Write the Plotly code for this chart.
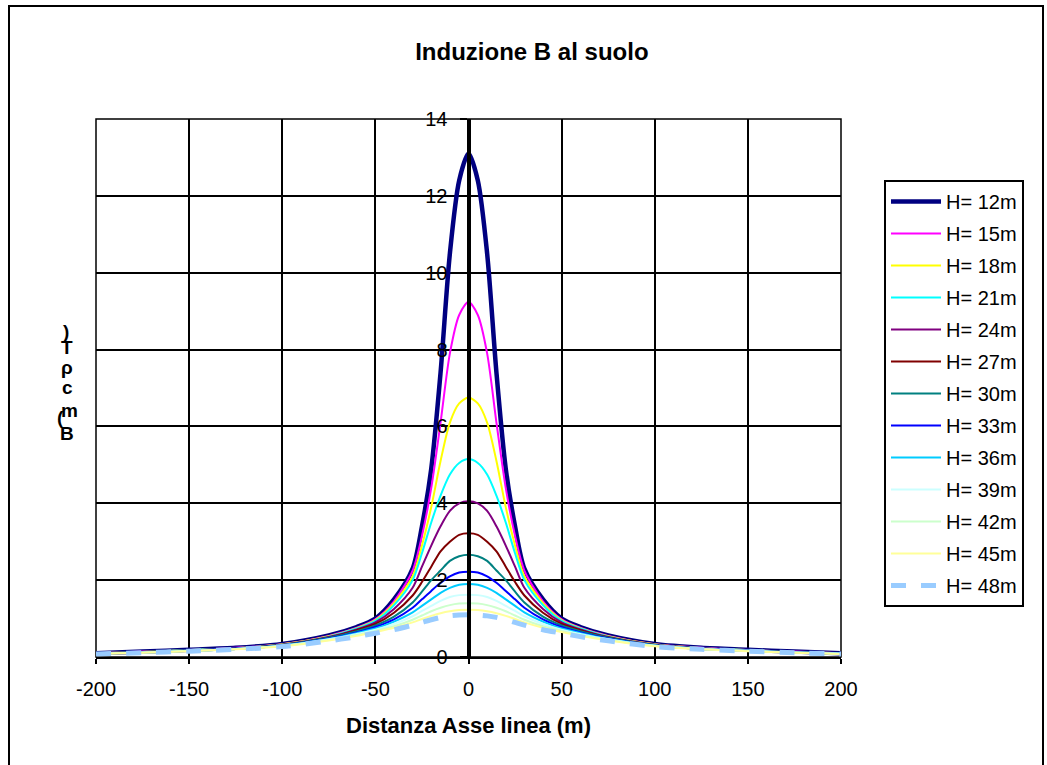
import plotly.graph_objects as go

# Distance from the line axis (m)
x_dist = [-200, -175, -150, -125, -100, -75, -60, -50, -40, -30, -25, -20, -15, -10, -5, 0,
          5, 10, 15, 20, 25, 30, 40, 50, 60, 75, 100, 125, 150, 175, 200]

# Induction B (µT) for each conductor height
b_h12 = [0.10, 0.14, 0.19, 0.24, 0.34, 0.56, 0.78, 1.00, 1.50, 2.30, 3.40, 4.90, 7.40, 10.5, 12.4, 13.1,
         12.4, 10.5, 7.40, 4.90, 3.40, 2.30, 1.50, 1.00, 0.78, 0.56, 0.34, 0.24, 0.19, 0.14, 0.10]
b_h15 = [0.10, 0.14, 0.18, 0.24, 0.33, 0.55, 0.76, 0.98, 1.45, 2.25, 3.15, 4.40, 6.10, 7.90, 8.90, 9.24,
         8.90, 7.90, 6.10, 4.40, 3.15, 2.25, 1.45, 0.98, 0.76, 0.55, 0.33, 0.24, 0.18, 0.14, 0.10]
b_h18 = [0.10, 0.13, 0.18, 0.23, 0.33, 0.54, 0.75, 0.96, 1.40, 2.10, 2.90, 3.90, 5.10, 6.10, 6.60, 6.75,
         6.60, 6.10, 5.10, 3.90, 2.90, 2.10, 1.40, 0.96, 0.75, 0.54, 0.33, 0.23, 0.18, 0.13, 0.10]
b_h21 = [0.10, 0.13, 0.18, 0.23, 0.32, 0.53, 0.74, 0.94, 1.35, 2.00, 2.70, 3.50, 4.20, 4.75, 5.05, 5.15,
         5.05, 4.75, 4.20, 3.50, 2.70, 2.00, 1.35, 0.94, 0.74, 0.53, 0.32, 0.23, 0.18, 0.13, 0.10]
b_h24 = [0.10, 0.13, 0.17, 0.23, 0.32, 0.52, 0.72, 0.90, 1.25, 1.80, 2.35, 2.90, 3.40, 3.80, 4.00, 4.05,
         4.00, 3.80, 3.40, 2.90, 2.35, 1.80, 1.25, 0.90, 0.72, 0.52, 0.32, 0.23, 0.17, 0.13, 0.10]
b_h27 = [0.09, 0.13, 0.17, 0.22, 0.31, 0.51, 0.70, 0.86, 1.15, 1.60, 1.95, 2.35, 2.75, 3.00, 3.18, 3.22,
         3.18, 3.00, 2.75, 2.35, 1.95, 1.60, 1.15, 0.86, 0.70, 0.51, 0.31, 0.22, 0.17, 0.13, 0.09]
b_h30 = [0.09, 0.13, 0.17, 0.22, 0.31, 0.50, 0.67, 0.82, 1.05, 1.42, 1.70, 2.00, 2.25, 2.50, 2.62, 2.66,
         2.62, 2.50, 2.25, 2.00, 1.70, 1.42, 1.05, 0.82, 0.67, 0.50, 0.31, 0.22, 0.17, 0.13, 0.09]
b_h33 = [0.09, 0.12, 0.17, 0.22, 0.30, 0.48, 0.64, 0.78, 0.98, 1.28, 1.50, 1.72, 1.93, 2.10, 2.20, 2.22,
         2.20, 2.10, 1.93, 1.72, 1.50, 1.28, 0.98, 0.78, 0.64, 0.48, 0.30, 0.22, 0.17, 0.12, 0.09]
b_h36 = [0.09, 0.12, 0.16, 0.21, 0.30, 0.47, 0.62, 0.74, 0.92, 1.16, 1.33, 1.50, 1.67, 1.80, 1.88, 1.90,
         1.88, 1.80, 1.67, 1.50, 1.33, 1.16, 0.92, 0.74, 0.62, 0.47, 0.30, 0.21, 0.16, 0.12, 0.09]
b_h39 = [0.09, 0.12, 0.16, 0.21, 0.29, 0.46, 0.60, 0.71, 0.86, 1.06, 1.20, 1.33, 1.46, 1.56, 1.61, 1.62,
         1.61, 1.56, 1.46, 1.33, 1.20, 1.06, 0.86, 0.71, 0.60, 0.46, 0.29, 0.21, 0.16, 0.12, 0.09]
b_h42 = [0.08, 0.12, 0.16, 0.21, 0.29, 0.44, 0.57, 0.68, 0.80, 0.97, 1.08, 1.19, 1.28, 1.35, 1.39, 1.40,
         1.39, 1.35, 1.28, 1.19, 1.08, 0.97, 0.80, 0.68, 0.57, 0.44, 0.29, 0.21, 0.16, 0.12, 0.08]
b_h45 = [0.08, 0.11, 0.15, 0.20, 0.28, 0.43, 0.55, 0.65, 0.76, 0.90, 0.99, 1.07, 1.14, 1.19, 1.22, 1.23,
         1.22, 1.19, 1.14, 1.07, 0.99, 0.90, 0.76, 0.65, 0.55, 0.43, 0.28, 0.20, 0.15, 0.11, 0.08]
b_h48 = [0.08, 0.11, 0.15, 0.20, 0.27, 0.42, 0.53, 0.62, 0.71, 0.83, 0.90, 0.97, 1.03, 1.07, 1.09, 1.10,
         1.09, 1.07, 1.03, 0.97, 0.90, 0.83, 0.71, 0.62, 0.53, 0.42, 0.27, 0.20, 0.15, 0.11, 0.08]

series_names = ["H= 12m", "H= 15m", "H= 18m", "H= 21m", "H= 24m", "H= 27m", "H= 30m",
                "H= 33m", "H= 36m", "H= 39m", "H= 42m", "H= 45m", "H= 48m"]
series_values = [b_h12, b_h15, b_h18, b_h21, b_h24, b_h27, b_h30,
                 b_h33, b_h36, b_h39, b_h42, b_h45, b_h48]
series_colors = ["#000080", "#FF00FF", "#FFFF00", "#00FFFF", "#800080", "#800000", "#008080",
                 "#0000FF", "#00CCFF", "#CCFFFF", "#CCFFCC", "#FFFF99", "#99CCFF"]
series_widths = [4.5, 2, 2, 2, 2, 2, 2, 2, 2, 2, 2, 2, 5]
series_dash = ["solid"] * 12 + ["dash"]

y_ticks = [0, 2, 4, 6, 8, 10, 12, 14]
x_ticks = [-200, -150, -100, -50, 0, 50, 100, 150, 200]

FONT = "Liberation Sans, Arial, sans-serif"

fig = go.Figure()
for i, (name, vals, col, w, d) in enumerate(zip(series_names, series_values, series_colors,
                                               series_widths, series_dash)):
    fig.add_trace(go.Scatter(
        x=x_dist, y=vals, name=name, mode="lines", legendgroup=f"g{i:02d}",
        line=dict(color=col, width=w, dash=d, shape="spline", smoothing=0.8),
    ))

# plot area: x 96..841, y 119..657 (px)
W, H = 1047, 765
L, R, T, B = 96, 841, 119, 657
def px_x(p):
    return (p - L) / (R - L)
def px_y(p):
    return (B - p) / (B - T)

fig.update_layout(
    width=W, height=H,
    margin=dict(l=L, r=W - R, t=T, b=H - B),
    paper_bgcolor="white", plot_bgcolor="white",
    font=dict(family=FONT, color="black", size=20),
    showlegend=True,
    title=dict(text="<b>Induzione B al suolo</b>", x=0.508, xanchor="center",
               y=1 - 52 / H, yanchor="middle", font=dict(size=24, family=FONT)),
    xaxis=dict(range=[-200, 200], tickvals=x_ticks, ticktext=[str(v) for v in x_ticks],
               showgrid=True, gridcolor="black", gridwidth=1.5,
               showline=True, linecolor="black", linewidth=2,
               ticks="outside", ticklen=5, tickwidth=1.5, tickcolor="black",
               zeroline=False, tickfont=dict(size=20), ticklabelstandoff=8,
               title=dict(text="<b>Distanza Asse linea (m)</b>", font=dict(size=22), standoff=19)),
    yaxis=dict(range=[0, 14], tickvals=y_ticks, ticktext=[str(v) for v in y_ticks],
               anchor="free", position=0.5,
               showgrid=True, gridcolor="black", gridwidth=1.5,
               showline=True, linecolor="black", linewidth=4,
               ticks="outside", ticklen=7, tickwidth=2, tickcolor="black",
               zeroline=False, tickfont=dict(size=20), ticklabelstandoff=8,
               layer="above traces"),
    legend=dict(x=px_x(884), y=px_y(180), xanchor="left", yanchor="top",
                bgcolor="white", bordercolor="black", borderwidth=2,
                font=dict(size=20, family=FONT), itemwidth=50, tracegroupgap=3,
                traceorder="grouped"),
)

# plot area frame
fig.add_shape(type="rect", xref="paper", yref="paper", x0=0, y0=0, x1=1, y1=1,
              line=dict(color="black", width=1.5), layer="below")

# outer chart border (left, top, right)
fig.add_shape(type="path", xref="paper", yref="paper",
              path=f"M {px_x(9)} {px_y(780)} L {px_x(9)} {px_y(6)} L {px_x(1043)} {px_y(6)} L {px_x(1043)} {px_y(780)}",
              line=dict(color="black", width=2))

# garbled vertical axis label (stacked characters as in the original)
y_label_chars = [(")", 66, 331), ("T", 67, 347), ("ρ", 67, 367), ("c", 67, 387),
                 ("m", 69, 410), ("(", 60, 417), ("B", 67, 434)]
for ch, cx, cy in y_label_chars:
    fig.add_annotation(text=f"<b>{ch}</b>", xref="paper", yref="paper",
                       x=px_x(cx), y=px_y(cy), showarrow=False,
                       xanchor="center", yanchor="middle",
                       font=dict(size=19, family=FONT, color="black"))

fig.write_html("out.html")
